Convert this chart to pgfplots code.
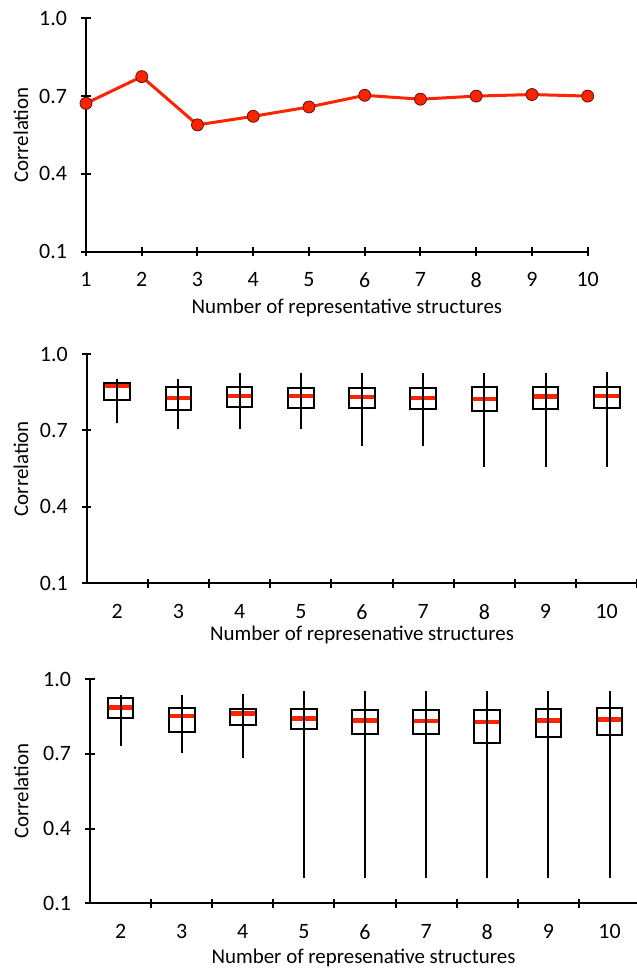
\documentclass[border=0pt]{standalone}
\usepackage{fontspec}
\setmainfont{Carlito}
\usepackage{pgfplots}
\pgfplotsset{compat=1.18}
\definecolor{lred}{RGB}{255,36,0}
\definecolor{mkedge}{RGB}{90,20,10}

\pgfplotsset{
  /pgf/number format/assume math mode=true,
  base/.style={
    scale only axis,
    anchor=south west,
    clip=false,
    axis lines*=left,
    axis line style={line width=2.2bp, black},
    ymin=0.1, ymax=1.0, ytick={0.1,0.4,0.7,1.0},
    yticklabel={\pgfmathprintnumber[fixed,fixed zerofill,precision=1]{\tick}},
    tick align=center,
    major tick length=9bp,
    minor tick length=9bp,
    every tick/.style={black, line width=2bp},
    font=\fontsize{21}{25}\selectfont,
    xticklabel style={yshift=-13bp, font=\fontsize{22}{26}\selectfont},
    yticklabel style={xshift=-11bp, font=\fontsize{22}{26}\selectfont},
    ylabel=Correlation,
  },
}

\newcommand{\bx}[6]{%
  \pgfmathsetmacro\xl{#1-0.21}\pgfmathsetmacro\xr{#1+0.21}%
  \addplot[lred, line width=4.5bp] coordinates {(\xl,#4) (\xr,#4)};
  \addplot[black, line width=2bp] coordinates {(\xl,#3) (\xr,#3) (\xr,#5) (\xl,#5)} --cycle;
  \addplot[black, line width=2bp] coordinates {(#1,#2) (#1,#6)};
}

\begin{document}
\begin{tikzpicture}
\useasboundingbox (0,0) rectangle (637bp,969bp);

% ---------- top panel ----------
\begin{axis}[base,
  at={(86bp,717.3bp)},
  width=501.7bp, height=233.4bp,
  xmin=1, xmax=10, xtick={1,...,10},
  xlabel={Number of representative structures},
  every axis x label/.style={at={(axis description cs:0.52,-0.24)}, anchor=center},
  every axis y label/.style={at={(axis description cs:-0.1296,0.5)}, rotate=90, anchor=center},
]
\addplot[lred, line width=3bp, mark=*, mark size=6bp,
  mark options={fill=lred, draw=mkedge, line width=0.8bp}]
  coordinates {(1,0.672) (2,0.775) (3,0.589) (4,0.622) (5,0.658) (6,0.703) (7,0.688) (8,0.700) (9,0.706) (10,0.700)};
\end{axis}

% ---------- middle panel ----------
\begin{axis}[base,
  at={(86.7bp,385.7bp)},
  width=550.6bp, height=229.3bp,
  xmin=1.5, xmax=10.5, xtick={2,...,10},
  minor xtick={2.5,3.5,...,10.5},
  major x tick style={draw=none},
  minor x tick style={black, line width=2bp},
  xlabel={Number of represenative structures},
  every axis x label/.style={at={(axis description cs:0.5,-0.2255)}, anchor=center},
  every axis y label/.style={at={(axis description cs:-0.1193,0.5)}, rotate=90, anchor=center},
]
\bx{2}{0.728}{0.819}{0.874}{0.887}{0.902}
\bx{3}{0.704}{0.779}{0.828}{0.869}{0.902}
\bx{4}{0.704}{0.793}{0.835}{0.869}{0.924}
\bx{5}{0.704}{0.789}{0.835}{0.866}{0.924}
\bx{6}{0.640}{0.787}{0.831}{0.865}{0.924}
\bx{7}{0.640}{0.783}{0.827}{0.868}{0.924}
\bx{8}{0.556}{0.776}{0.824}{0.869}{0.924}
\bx{9}{0.556}{0.784}{0.834}{0.869}{0.924}
\bx{10}{0.556}{0.788}{0.836}{0.872}{0.931}
\end{axis}

% ---------- bottom panel ----------
\begin{axis}[base,
  at={(90bp,65.7bp)},
  width=547bp, height=224.3bp,
  xmin=1.5, xmax=10.45, xtick={2,...,10},
  minor xtick={2.5,3.5,...,9.5},
  major x tick style={draw=none},
  minor x tick style={black, line width=2bp},
  xlabel={Number of represenative structures},
  every axis x label/.style={at={(axis description cs:0.5,-0.244)}, anchor=center},
  every axis y label/.style={at={(axis description cs:-0.126,0.5)}, rotate=90, anchor=center},
]
\bx{2}{0.731}{0.845}{0.885}{0.922}{0.936}
\bx{3}{0.702}{0.789}{0.852}{0.885}{0.936}
\bx{4}{0.685}{0.814}{0.862}{0.881}{0.939}
\bx{5}{0.200}{0.800}{0.842}{0.878}{0.952}
\bx{6}{0.200}{0.778}{0.833}{0.876}{0.952}
\bx{7}{0.200}{0.778}{0.832}{0.876}{0.952}
\bx{8}{0.200}{0.742}{0.828}{0.874}{0.952}
\bx{9}{0.200}{0.769}{0.833}{0.878}{0.952}
\bx{10}{0.200}{0.774}{0.838}{0.884}{0.952}
\end{axis}
\end{tikzpicture}
\end{document}
